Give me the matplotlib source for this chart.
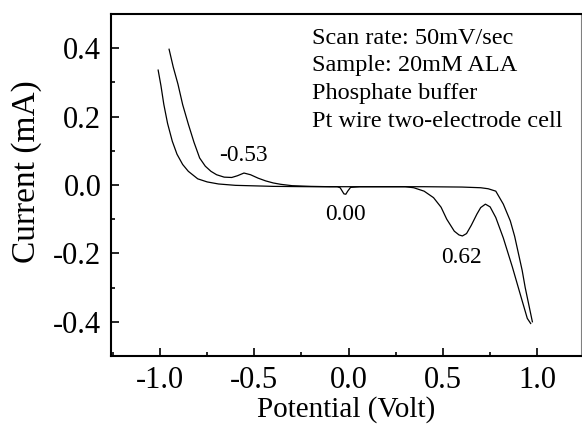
import matplotlib.pyplot as plt
from matplotlib.ticker import MultipleLocator

# Outer branch (starts at top left, shows the -0.53 V bump)
outer_v = [-0.952, -0.93, -0.905, -0.88, -0.85, -0.82, -0.79, -0.76, -0.73, -0.70,
           -0.66, -0.62, -0.59, -0.555, -0.52, -0.48, -0.44, -0.40, -0.36, -0.30,
           -0.20, -0.10, 0.0, 0.2, 0.4, 0.6, 0.70, 0.74, 0.78, 0.82, 0.857,
           0.88, 0.90, 0.92, 0.936, 0.955, 0.974]
outer_i = [0.397, 0.345, 0.295, 0.235, 0.178, 0.125, 0.079, 0.055, 0.040, 0.030,
           0.023, 0.022, 0.027, 0.035, 0.030, 0.020, 0.012, 0.006, 0.002, -0.002,
           -0.004, -0.005, -0.005, -0.005, -0.005, -0.006, -0.008, -0.011, -0.018, -0.056, -0.105,
           -0.150, -0.20, -0.25, -0.30, -0.35, -0.40]

# Inner branch (dip at 0.00 V and peak at 0.62 V)
inner_v = [-1.01, -0.995, -0.98, -0.96, -0.935, -0.91, -0.88, -0.85, -0.80, -0.75,
           -0.69, -0.6, -0.4, -0.2, -0.06, -0.045, -0.035, -0.025, -0.015, -0.005,
           0.01, 0.06, 0.2, 0.3, 0.345, 0.40, 0.45, 0.49, 0.52, 0.56, 0.585,
           0.603, 0.625, 0.65, 0.68, 0.70, 0.725, 0.75, 0.78, 0.82, 0.868, 0.91,
           0.947, 0.965]
inner_i = [0.336, 0.29, 0.236, 0.18, 0.128, 0.09, 0.06, 0.040, 0.018, 0.009,
           0.003, -0.001, -0.004, -0.005, -0.005, -0.008, -0.017, -0.026, -0.027, -0.018,
           -0.007, -0.005, -0.005, -0.005, -0.008, -0.018, -0.037, -0.065, -0.100, -0.135, -0.146,
           -0.149, -0.142, -0.118, -0.085, -0.066, -0.056, -0.064, -0.095, -0.155, -0.24, -0.32,
           -0.39, -0.405]

peak_labels = ["-0.53", "0.00", "0.62"]
peak_pos = [(-0.56, 0.085), (-0.015, -0.085), (0.60, -0.213)]

info = ["Scan rate: 50mV/sec", "Sample: 20mM ALA", "Phosphate buffer",
        "Pt wire two-electrode cell"]

plt.rcParams['font.family'] = ['Liberation Serif', 'DejaVu Serif']
plt.rcParams['axes.unicode_minus'] = False

fig = plt.figure(figsize=(5.82, 4.25), dpi=100)
ax = fig.add_axes([0.1907, 0.1624, 0.807, 0.8046])

ax.plot(outer_v, outer_i, color='black', lw=0.9)
ax.plot(inner_v, inner_i, color='black', lw=0.9)

for lab, (x, y) in zip(peak_labels, peak_pos):
    ax.text(x, y, lab, ha='center', va='center', fontsize=16.8)

ax.text(0.428, 0.96, "\n".join(info), transform=ax.transAxes, ha='left', va='top',
        fontsize=17.5, linespacing=1.42)

ax.set_xlim(-1.26, 1.23)
ax.set_ylim(-0.5, 0.5)
ax.xaxis.set_major_locator(MultipleLocator(0.5))
ax.xaxis.set_minor_locator(MultipleLocator(0.25))
ax.yaxis.set_major_locator(MultipleLocator(0.2))
ax.yaxis.set_minor_locator(MultipleLocator(0.1))
ax.xaxis.set_major_formatter(plt.FormatStrFormatter('%.1f'))
ax.yaxis.set_major_formatter(plt.FormatStrFormatter('%.1f'))
ax.tick_params(which='both', direction='in', labelsize=22, width=1.2)
ax.tick_params(which='major', length=6, pad=7)
ax.tick_params(which='minor', length=3)
for s in ax.spines.values():
    s.set_linewidth(1.5)
ax.spines['right'].set_linewidth(0.8)
ax.spines['right'].set_color('0.5')

ax.set_xlabel("Potential (Volt)", fontsize=21, labelpad=1)
ax.set_ylabel("Current (mA)", fontsize=24)
ax.yaxis.set_label_coords(-0.147, 0.54)

fig.savefig("out.png", dpi=100)
